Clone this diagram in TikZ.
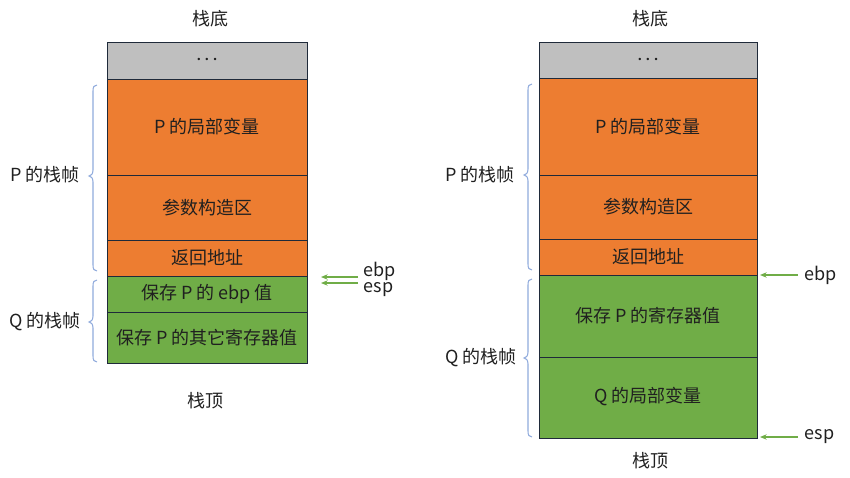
\documentclass[tikz,border=0pt]{standalone}
\usepackage{fontspec}
\setmainfont{Noto Sans CJK SC}
\usetikzlibrary{arrows.meta}
\definecolor{og}{HTML}{ED7D31}
\definecolor{gn}{HTML}{70AD47}
\definecolor{gy}{HTML}{BFBFBF}
\definecolor{bd}{HTML}{1F2A3A}
\definecolor{br}{HTML}{8FAADC}
\definecolor{ar}{HTML}{70AD47}
\definecolor{tx}{HTML}{202020}
\tikzset{
  cell/.style={draw=bd, line width=0.6pt, text=tx, font=\fontsize{13.5pt}{15pt}\selectfont, inner sep=0pt},
  lbl/.style={text=tx, font=\fontsize{13.5pt}{15pt}\selectfont, inner sep=1pt},
  dots/.style={text=tx, font=\fontsize{13pt}{15pt}\selectfont\boldmath, inner sep=1pt},
  brc/.style={draw=br, line width=0.8pt},
  ptr/.style={draw=ar, line width=0.8pt, -{Stealth[length=5pt,width=4pt]}}
}
\begin{document}
\begin{tikzpicture}[x=0.75pt,y=-0.75pt]
\useasboundingbox (0,0) rectangle (850,478);
% ---------- left stack ----------
\node[lbl] (lbot) at (210,19) {栈底};
\path[cell,fill=gy] (107,42) rectangle (307,79);
\node[dots] (l0) at (207,60) {$\cdots$};
\path[cell,fill=og] (107,79) rectangle (307,175);
\node[lbl] (l1) at (207,127) {P 的局部变量};
\path[cell,fill=og] (107,175) rectangle (307,240);
\node[lbl] (l2) at (207,207.5) {参数构造区};
\path[cell,fill=og] (107,240) rectangle (307,276);
\node[lbl] (l3) at (207,258) {返回地址};
\path[cell,fill=gn] (107,276) rectangle (307,312);
\node[lbl] (l4) at (207,294) {保存 P 的 ebp 值};
\path[cell,fill=gn] (107,312) rectangle (307,363);
\node[lbl] (l5) at (207,337.5) {保存 P 的其它寄存器值};
\node[lbl] (ltop) at (205,401) {栈顶};
\node[lbl] (lP) at (45,175) {P 的栈帧};
\node[lbl] (lQ) at (45,322) {Q 的栈帧};
\draw[brc] (97,85) .. controls (94,85) and (93,87) .. (93,91) -- (93,170)
  .. controls (93,174) and (91,176) .. (89,176)
  .. controls (91,176) and (93,178) .. (93,182) -- (93,265)
  .. controls (93,269) and (94,271) .. (97,271);
\draw[brc] (97,280) .. controls (94,280) and (93,282) .. (93,286) -- (93,316)
  .. controls (93,320) and (91,322) .. (89,322)
  .. controls (91,322) and (93,324) .. (93,328) -- (93,356)
  .. controls (93,360) and (94,362) .. (97,362);
\node[lbl,anchor=west] (lebp) at (362,271) {ebp};
\node[lbl,anchor=west] (lesp) at (362,290) {esp};
\coordinate (lea) at (358,277);
\coordinate (leb) at (321,277);
\coordinate (lsa) at (358,283);
\coordinate (lsb) at (321,283);
\draw[ptr] (lea) -- (leb);
\draw[ptr] (lsa) -- (lsb);
% ---------- right stack ----------
\node[lbl] (rbot) at (650,19) {栈底};
\path[cell,fill=gy] (539,42) rectangle (757,78.5);
\node[dots] (r0) at (648,60) {$\cdots$};
\path[cell,fill=og] (539,78.5) rectangle (757,175);
\node[lbl] (r1) at (648,127) {P 的局部变量};
\path[cell,fill=og] (539,175) rectangle (757,239);
\node[lbl] (r2) at (648,207) {参数构造区};
\path[cell,fill=og] (539,239) rectangle (757,275);
\node[lbl] (r3) at (648,257) {返回地址};
\path[cell,fill=gn] (539,275) rectangle (757,357);
\node[lbl] (r4) at (648,316) {保存 P 的寄存器值};
\path[cell,fill=gn] (539,357) rectangle (757,438);
\node[lbl] (r5) at (648,397) {Q 的局部变量};
\node[lbl] (rtop) at (650,461) {栈顶};
\node[lbl] (rP) at (480,175) {P 的栈帧};
\node[lbl] (rQ) at (481,358) {Q 的栈帧};
\draw[brc] (532,84) .. controls (529,84) and (528,86) .. (528,90) -- (528,169)
  .. controls (528,173) and (526,175) .. (524,175)
  .. controls (526,175) and (528,177) .. (528,181) -- (528,264)
  .. controls (528,268) and (529,270) .. (532,270);
\draw[brc] (532,279) .. controls (529,279) and (528,281) .. (528,285) -- (528,352)
  .. controls (528,356) and (526,358) .. (524,358)
  .. controls (526,358) and (528,360) .. (528,364) -- (528,431)
  .. controls (528,435) and (529,437) .. (532,437);
\node[lbl,anchor=west] (rebp) at (803,275) {ebp};
\node[lbl,anchor=west] (resp) at (803,437) {esp};
\coordinate (rea) at (798,275);
\coordinate (reb) at (760,275);
\coordinate (rsa) at (798,437);
\coordinate (rsb) at (760,437);
\draw[ptr] (rea) -- (reb);
\draw[ptr] (rsa) -- (rsb);
\end{tikzpicture}
\end{document}
